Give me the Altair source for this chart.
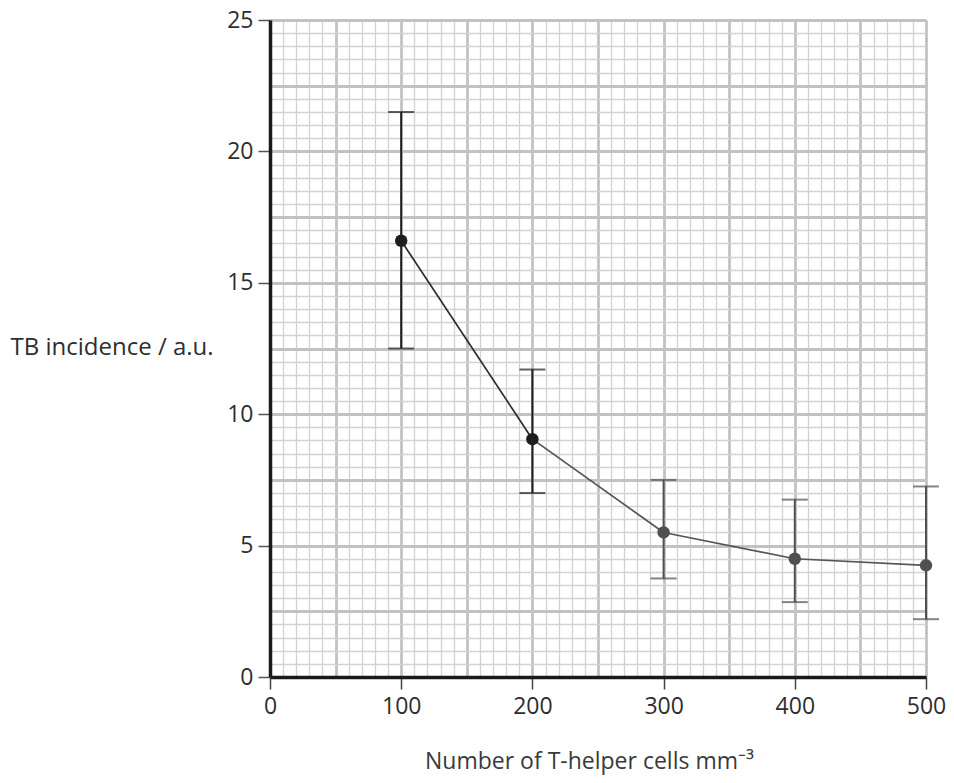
import altair as alt
import pandas as pd

# ---- data ----
x_cells = [100, 200, 300, 400, 500]
tb_incidence = [16.6, 9.05, 5.5, 4.5, 4.25]
err_low = [12.5, 7.0, 3.75, 2.85, 2.2]
err_high = [21.5, 11.7, 7.5, 6.75, 7.25]
mark_colors = ["#1e1e1e", "#1e1e1e", "#505050", "#505050", "#505050"]
seg_colors = ["#2a2a2a", "#555555", "#555555", "#555555"]

x_ticks = [0, 100, 200, 300, 400, 500]
y_ticks = [0, 5, 10, 15, 20, 25]
x_major_grid = list(range(0, 501, 50))
y_major_grid = [i * 2.5 for i in range(11)]
x_minor_grid = list(range(0, 501, 10))
y_minor_grid = [i * 0.5 for i in range(51)]

df = pd.DataFrame({"x": x_cells, "y": tb_incidence, "lo": err_low,
                   "hi": err_high, "c": mark_colors})
seg = pd.DataFrame({"x": x_cells[:-1], "y": tb_incidence[:-1],
                    "x2": x_cells[1:], "y2": tb_incidence[1:], "c": seg_colors})
caps = pd.DataFrame({"x": x_cells * 2, "v": err_low + err_high,
                     "c": mark_colors * 2})

xs = alt.Scale(domain=[0, 500], nice=False, zero=False)
ys = alt.Scale(domain=[0, 25], nice=False, zero=False)
FONT = "Open Sans"

minor_x = alt.Axis(values=x_minor_grid, grid=True, gridColor="#d2d2d2", gridWidth=1.3,
                   labels=False, ticks=False, domain=False, title=None, orient="top")
minor_y = alt.Axis(values=y_minor_grid, grid=True, gridColor="#d2d2d2", gridWidth=1.3,
                   labels=False, ticks=False, domain=False, title=None, orient="right")
major_x = alt.Axis(values=x_major_grid, grid=True, gridColor="#c2c2c2", gridWidth=2.8,
                   labels=False, ticks=False, domain=False, title=None, orient="top")
major_y = alt.Axis(values=y_major_grid, grid=True, gridColor="#c2c2c2", gridWidth=2.8,
                   labels=False, ticks=False, domain=False, title=None, orient="right")

main_x = alt.Axis(values=x_ticks, grid=False, orient="bottom", domain=True,
                  domainColor="#1a1a1a", domainWidth=3.5, ticks=True, tickSize=12,
                  tickColor="#444444", tickWidth=1.5, labelFont=FONT, labelFontSize=23,
                  labelColor="#2e2e2e", labelPadding=6, labelFlush=False,
                  title="Number of T-helper cells mm⁻³", titleFont=FONT,
                  titleFontSize=23, titleFontWeight="normal", titleColor="#3a3a3a",
                  titleX=319, titleY=91, titleAlign="center",
                  titleBaseline="alphabetic")
main_y = alt.Axis(values=y_ticks, grid=False, orient="left", domain=True,
                  domainColor="#1a1a1a", domainWidth=3.5, ticks=True, tickSize=12,
                  tickColor="#555555", tickWidth=1.5, labelFont=FONT, labelFontSize=23,
                  labelColor="#2e2e2e", labelPadding=5, labelFlush=False,
                  title="TB incidence / a.u.", titleFont=FONT, titleFontSize=24,
                  titleFontWeight="normal", titleColor="#2e2e2e", titleAngle=0,
                  titleAlign="left", titleBaseline="middle", titleX=-260, titleY=327)

bars = alt.Chart(df).mark_rule(strokeWidth=2).encode(
    x=alt.X("x:Q", scale=xs, axis=minor_x),
    y=alt.Y("lo:Q", scale=ys, axis=minor_y),
    y2="hi:Q",
    color=alt.Color("c:N", scale=None),
)

cap_layer = alt.Chart(caps).mark_tick(orient="horizontal", size=26, thickness=2).encode(
    x=alt.X("x:Q", scale=xs, axis=major_x),
    y=alt.Y("v:Q", scale=ys, axis=major_y),
    color=alt.Color("c:N", scale=None),
)

line = alt.Chart(seg).mark_rule(strokeWidth=1.7).encode(
    x=alt.X("x:Q", scale=xs, axis=main_x),
    y=alt.Y("y:Q", scale=ys, axis=main_y),
    x2="x2:Q",
    y2="y2:Q",
    color=alt.Color("c:N", scale=None),
)

points = alt.Chart(df).mark_circle(size=155, opacity=1).encode(
    x=alt.X("x:Q", scale=xs, axis=None),
    y=alt.Y("y:Q", scale=ys, axis=None),
    color=alt.Color("c:N", scale=None),
)

chart = alt.layer(bars, cap_layer, line, points).resolve_axis(
    x="independent", y="independent"
).properties(
    width=656, height=657,
    autosize=alt.AutoSizeParams(type="none"),
    padding={"left": 262, "top": 12, "right": 20, "bottom": 100},
    background="white",
).configure_view(stroke=None)

chart.save("out.html", embed_options={"renderer": "svg", "actions": False})
